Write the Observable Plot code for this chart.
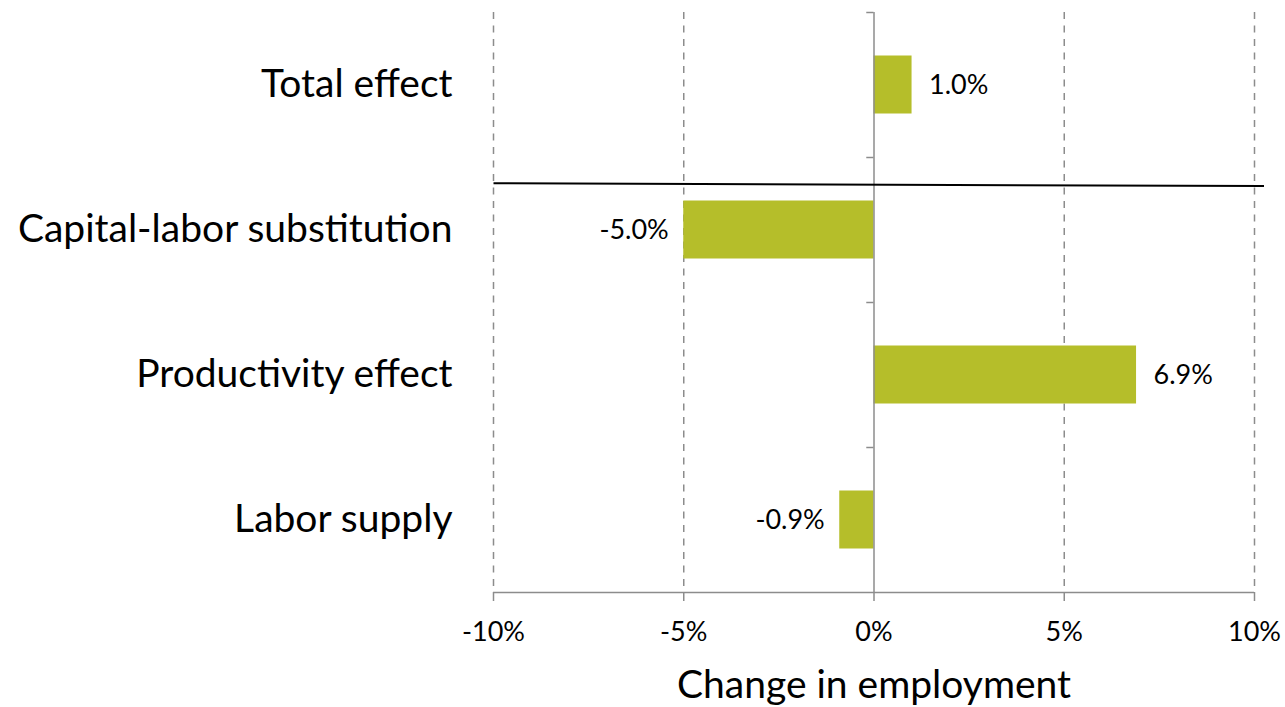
<!DOCTYPE html>
<html>
<head>
<meta charset="utf-8">
<script src="https://cdn.jsdelivr.net/npm/d3@7"></script>
<script src="https://cdn.jsdelivr.net/npm/@observablehq/plot@0.6"></script>
<style>
  html, body { margin: 0; padding: 0; background: #fff; }
  #chart svg { display: block; }
</style>
</head>
<body>
<div id="chart"></div>
<script>
const categories = ["Total effect", "Capital-labor substitution", "Productivity effect", "Labor supply"];
const values = [1.0, -5.0, 6.9, -0.9];
const valueLabels = ["1.0%", "-5.0%", "6.9%", "-0.9%"];
const xTicks = [-10, -5, 0, 5, 10];
const gridTicks = [-10, -5, 5, 10];
const bandBoundaries = [-0.5, 0.5, 1.5, 2.5];
const axisTitle = "Change in employment";
const separator = [{x1: -10, y1: 0.677, x2: 10.25, y2: 0.697}];

const data = categories.map((c, i) => ({cat: c, idx: i, value: values[i], label: valueLabels[i]}));
const pos = data.filter(d => d.value >= 0);
const neg = data.filter(d => d.value < 0);

const FONT = "Lato, 'Open Sans', sans-serif";
const barColor = "#b5be2a";
const gray = "#8c8c8c";

const chart = Plot.plot({
  width: 1285,
  height: 707,
  marginTop: 12,
  marginBottom: 115,
  marginLeft: 493,
  marginRight: 31,
  style: {fontFamily: FONT, background: "#fff", color: "#000"},
  x: {domain: [-10, 10]},
  y: {domain: [-0.5, 3.5], reverse: true},
  marks: [
    Plot.ruleX(gridTicks, {stroke: gray, strokeWidth: 1.5, strokeDasharray: "7,6.5", y1: -0.5, y2: 3.5}),
    Plot.rect(data, {x1: 0, x2: "value", y1: d => d.idx - 0.2, y2: d => d.idx + 0.2, fill: barColor}),
    Plot.ruleX([0], {stroke: gray, strokeWidth: 1.5, y1: -0.5, y2: 3.5}),
    Plot.ruleY(bandBoundaries, {y: d => d, x1: -0.19, x2: 0, stroke: gray, strokeWidth: 1.5}),
    Plot.ruleY([3.5], {stroke: gray, strokeWidth: 1.5}),
    Plot.axisX({ticks: xTicks, tickSize: 9, tickPadding: 20, stroke: gray, strokeWidth: 1.5,
      tickFormat: d => d + "%", fontSize: 27, label: null, fill: "#000"}),
    Plot.axisY({ticks: [0, 1, 2, 3], tickSize: 0, tickPadding: 41, tickFormat: i => categories[i],
      fontSize: 39, label: null, fill: "#000"}),
    Plot.text(pos, {x: "value", y: "idx", text: "label", fontSize: 27, fill: "#000", textAnchor: "start", dx: 17}),
    Plot.text(neg, {x: "value", y: "idx", text: "label", fontSize: 27, fill: "#000", textAnchor: "end", dx: -15}),
    Plot.link(separator, {x1: "x1", y1: "y1", x2: "x2", y2: "y2", stroke: "#000", strokeWidth: 2, clip: false}),
    Plot.text([axisTitle], {frameAnchor: "bottom", text: d => d, dy: 105, fontSize: 39, fill: "#000"})
  ]
});
document.getElementById("chart").appendChild(chart);
</script>
</body>
</html>
